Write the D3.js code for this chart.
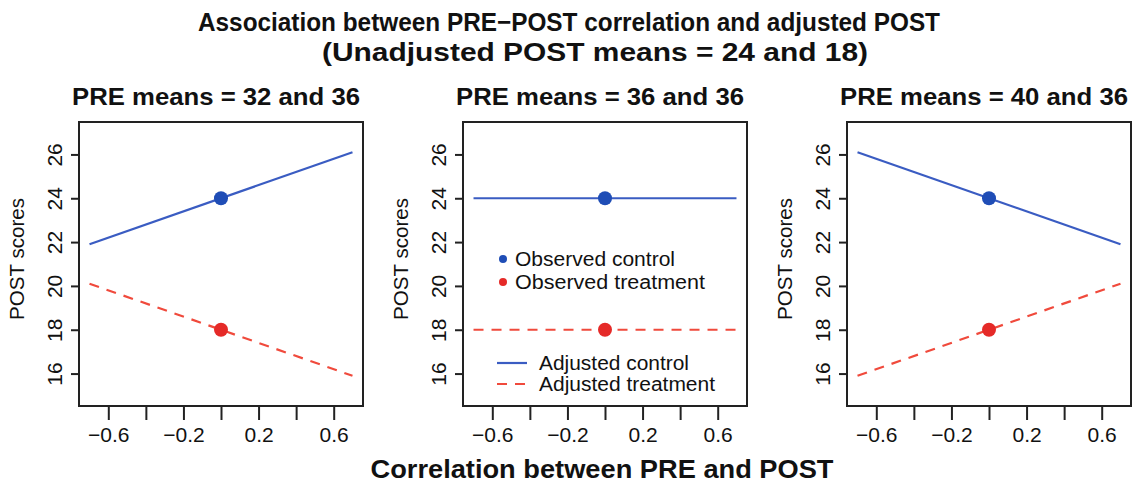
<!DOCTYPE html>
<html><head><meta charset="utf-8">
<script src="https://cdn.jsdelivr.net/npm/d3@7"></script>
<style>
html,body{margin:0;padding:0;background:#fff;}
text{font-family:"Liberation Sans",Arial,Helvetica,sans-serif;fill:#111;}
</style></head>
<body>
<svg id="chart" width="1139" height="484"></svg>
<script>
// ---- data ----
const panelTitles = ["PRE means = 32 and 36", "PRE means = 36 and 36", "PRE means = 40 and 36"];
const correlations = [-0.7, 0.7];
const adjControl = [[21.9, 26.1], [24, 24], [26.1, 21.9]];
const adjTreatment = [[20.1, 15.9], [18, 18], [15.9, 20.1]];
const observedR = 0;
const observedControl = 24;
const observedTreatment = 18;
const xTicks = [-0.6, -0.4, -0.2, 0, 0.2, 0.4, 0.6];
const xTickLabels = ["-0.6", "", "-0.2", "", "0.2", "", "0.6"];
const yTicks = [16, 18, 20, 22, 24, 26];
const legendLabels = ["Observed control", "Observed treatment", "Adjusted control", "Adjusted treatment"];

// ---- layout ----
const svg = d3.select("#chart");
const blueLine = "#3a5cc2", bluePt = "#1f4db6";
const redLine = "#f04a3c", redPt = "#e52a28";
const panelLeft = [79, 463, 847], pw = 284, plotTop = 122, plotBottom = 406;
const dash = "10,8";

function fitText(sel, len) {
  sel.attr("textLength", len).attr("lengthAdjust", "spacingAndGlyphs");
}

svg.append("text").attr("x", 569).attr("y", 31).attr("text-anchor", "middle")
  .attr("font-size", 26).attr("font-weight", "bold")
  .text("Association between PRE\u2212POST correlation and adjusted POST")
  .call(fitText, 742);
svg.append("text").attr("x", 595).attr("y", 61).attr("text-anchor", "middle")
  .attr("font-size", 26).attr("font-weight", "bold")
  .text("(Unadjusted POST means = 24 and 18)")
  .call(fitText, 546);
svg.append("text").attr("x", 602).attr("y", 478).attr("text-anchor", "middle")
  .attr("font-size", 25).attr("font-weight", "bold")
  .text("Correlation between PRE and POST")
  .call(fitText, 463);

panelTitles.forEach((title, i) => {
  const L = panelLeft[i];
  const x = d3.scaleLinear().domain([-0.756, 0.756]).range([L, L + pw]);
  const y = d3.scaleLinear().domain([14.52, 27.48]).range([plotBottom, plotTop]);
  const g = svg.append("g");

  // panel title
  g.append("text").attr("x", L + pw / 2 - 5).attr("y", 105).attr("text-anchor", "middle")
    .attr("font-size", 24).attr("font-weight", "bold").text(title).call(fitText, 288);

  // x axis
  const xa = g.append("g").attr("transform", `translate(0,${plotBottom})`)
    .call(d3.axisBottom(x).tickValues(xTicks).tickSize(14).tickSizeOuter(0)
      .tickFormat((d, k) => xTickLabels[k].replace("-", "\u2212")));
  xa.select(".domain").remove();
  xa.selectAll(".tick line").attr("stroke", "#222").attr("stroke-width", 2);
  xa.selectAll(".tick text").attr("font-size", 21).attr("font-family", '"Liberation Sans",Arial,sans-serif')
    .attr("fill", "#111").attr("dy", null).attr("y", 36);

  // y axis
  const ya = g.append("g").attr("transform", `translate(${L},0)`)
    .call(d3.axisLeft(y).tickValues(yTicks).tickSize(8).tickSizeOuter(0).tickFormat(d3.format("d")));
  ya.select(".domain").remove();
  ya.selectAll(".tick line").attr("stroke", "#222").attr("stroke-width", 2);
  ya.selectAll(".tick text").attr("font-size", 21).attr("font-family", '"Liberation Sans",Arial,sans-serif')
    .attr("fill", "#111").attr("text-anchor", "middle").attr("dy", null).attr("x", null)
    .attr("transform", "translate(-17,0) rotate(-90)");

  g.append("text").attr("transform", `translate(${L - 55},${(plotTop + plotBottom) / 2 - 5}) rotate(-90)`)
    .attr("text-anchor", "middle").attr("font-size", 20).text("POST scores").call(fitText, 122);

  // lines
  const line = d3.line().x(d => x(d[0])).y(d => y(d[1]));
  g.append("path").datum(correlations.map((r, k) => [r, adjControl[i][k]]))
    .attr("d", line).attr("fill", "none").attr("stroke", blueLine).attr("stroke-width", 2.2);
  g.append("path").datum(correlations.map((r, k) => [r, adjTreatment[i][k]]))
    .attr("d", line).attr("fill", "none").attr("stroke", redLine).attr("stroke-width", 2.2)
    .attr("stroke-dasharray", dash);

  // points
  g.append("circle").attr("cx", x(observedR)).attr("cy", y(observedControl)).attr("r", 7).attr("fill", bluePt);
  g.append("circle").attr("cx", x(observedR)).attr("cy", y(observedTreatment)).attr("r", 7).attr("fill", redPt);

  // box
  g.append("rect").attr("x", L).attr("y", plotTop).attr("width", pw).attr("height", plotBottom - plotTop)
    .attr("fill", "none").attr("stroke", "#222").attr("stroke-width", 2);

  if (i === 1) {
    const lg = g.append("g");
    lg.append("circle").attr("cx", 503).attr("cy", 259).attr("r", 4).attr("fill", bluePt);
    lg.append("circle").attr("cx", 503).attr("cy", 282).attr("r", 4).attr("fill", redPt);
    lg.append("text").attr("x", 515).attr("y", 266).attr("font-size", 20).text(legendLabels[0]).call(fitText, 160);
    lg.append("text").attr("x", 515).attr("y", 289).attr("font-size", 20).text(legendLabels[1]).call(fitText, 190);
    lg.append("line").attr("x1", 497).attr("x2", 527).attr("y1", 363).attr("y2", 363)
      .attr("stroke", blueLine).attr("stroke-width", 2.2);
    lg.append("line").attr("x1", 497).attr("x2", 527).attr("y1", 384).attr("y2", 384)
      .attr("stroke", redLine).attr("stroke-width", 2.2).attr("stroke-dasharray", dash);
    lg.append("text").attr("x", 539).attr("y", 370).attr("font-size", 20).text(legendLabels[2]).call(fitText, 150);
    lg.append("text").attr("x", 539).attr("y", 391).attr("font-size", 20).text(legendLabels[3]).call(fitText, 176);
  }
});
</script>
</body></html>
